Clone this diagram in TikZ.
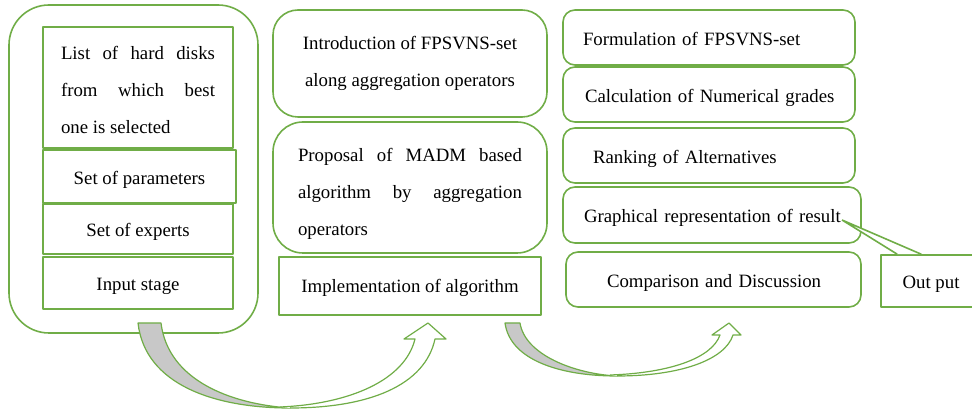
\documentclass[tikz,border=0pt]{standalone}
\usepackage{fontspec}
\setmainfont{Liberation Serif}
\definecolor{boxgreen}{RGB}{112,173,71}
\definecolor{foldgray}{RGB}{200,200,200}
\begin{document}
\begin{tikzpicture}[>=latex,line join=bevel,
  every node/.style={font=\fontsize{18.8bp}{37bp}\selectfont,inner sep=0pt},
  oneline/.style={text height=20bp,text depth=4bp},
  plainbox/.style={draw=boxgreen,line width=1.6bp},
  roundbox/.style={draw=boxgreen,line width=1.6bp,rounded corners=#1},
  stagebox/.style={roundbox=12bp,oneline,minimum height=55bp,align=left},
  bentarrow/.style={draw=boxgreen,line width=1.2bp,line join=round},]
\useasboundingbox (0bp,0bp) rectangle (972bp,410bp);
%%
\node (node_frame) at (133.5bp,241bp) [roundbox=40bp,minimum width=249bp,minimum height=328bp] {};
  \node (node_disks) at (138bp,322.5bp) [plainbox,minimum width=190bp,minimum height=121bp,text width=154bp,align=justify,text height=21.6bp,text depth=78bp] {List of hard disks\linebreak from which best\linebreak one is selected};
  \node (node_params) at (139.5bp,233.5bp) [plainbox,oneline,minimum width=193bp,minimum height=53bp] {Set of parameters};
  \node (node_experts) at (138bp,181bp) [plainbox,oneline,minimum width=190bp,minimum height=50bp] {Set of experts};
  \node (node_input) at (138bp,127bp) [plainbox,oneline,minimum width=190bp,minimum height=52bp] {Input stage};
%
\node (node_intro) at (410bp,346.5bp) [roundbox=25bp,minimum width=274bp,minimum height=107bp,align=center] {Introduction of FPSVNS-set\\along aggregation operators};
  \node (node_proposal) at (410bp,222.5bp) [roundbox=30bp,minimum width=274bp,minimum height=131bp,text width=224bp,align=justify,text height=25.6bp,text depth=78bp] {Proposal of MADM based\linebreak algorithm by aggregation\linebreak operators};
  \node (node_implement) at (410bp,124bp) [plainbox,text height=17bp,text depth=4bp,minimum width=262bp,minimum height=58bp] {Implementation of algorithm};
%
\node (node_formul) at (709bp,372.5bp) [stagebox,text width=292bp] {\hspace*{20bp}Formulation of FPSVNS-set};
  \node (node_calc) at (709bp,315.5bp) [stagebox,text width=292bp] {\hspace*{22bp}Calculation of Numerical grades};
  \node (node_rank) at (709bp,254.5bp) [stagebox,text width=292bp] {\hspace*{30bp}Ranking of Alternatives};
  \node (node_graph) at (712bp,195bp) [stagebox,text width=298bp,minimum height=56bp] {\hspace*{21bp}Graphical representation of result};
  \node (node_compar) at (713.5bp,130.5bp) [stagebox,text width=295bp] {\hspace*{41bp}Comparison and Discussion};
  \coordinate (node_resultend) at (842bp,190bp);
  \node (node_output) at (931bp,129bp) [plainbox,oneline,minimum width=100bp,minimum height=52bp] {Out put};
  \fill [white] ([xshift=17bp]node_output.north west) -- (node_resultend) -- ([xshift=41bp]node_output.north west) -- cycle;
  \draw [draw=boxgreen,line width=1.6bp,line join=miter] ([xshift=17bp]node_output.north west) -- (node_resultend) -- ([xshift=41bp]node_output.north west);
%
\draw [bentarrow,fill=foldgray] (138bp,87bp) .. controls (145bp,25bp) and (215bp,2bp) .. (290bp,2bp) .. controls (230bp,6bp) and (168bp,30bp) .. (161bp,87bp) -- cycle;
  \draw [bentarrow,fill=white] (290bp,2bp) .. controls (370bp,2bp) and (425bp,25bp) .. (435bp,71bp) -- (446bp,71bp) -- (428bp,87bp) -- (404bp,71bp) -- (415bp,71bp) .. controls (405bp,30bp) and (350bp,6bp) .. (280bp,3bp);
  \draw [bentarrow,fill=foldgray] (505bp,87bp) .. controls (510bp,50bp) and (560bp,34bp) .. (617bp,34bp) .. controls (575bp,36bp) and (525bp,55bp) .. (520bp,87bp) -- cycle;
  \draw [bentarrow,fill=white] (617bp,34bp) .. controls (680bp,34bp) and (725bp,50bp) .. (733bp,75bp) -- (741bp,75bp) -- (729bp,87bp) -- (712bp,75bp) -- (720bp,75bp) .. controls (712bp,52bp) and (670bp,37bp) .. (610bp,35bp);
%
\end{tikzpicture}
\end{document}
